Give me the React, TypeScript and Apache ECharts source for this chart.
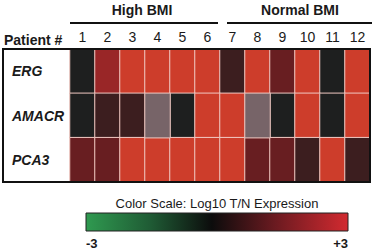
import React, { useEffect, useRef } from "react";
import * as echarts from "echarts";

const patients = ["1", "2", "3", "4", "5", "6", "7", "8", "9", "10", "11", "12"];
const genes = ["ERG", "AMACR", "PCA3"];
// Log10 T/N expression (read from colour intensity); null = not available (grey)
const ergValues = [0, 2.1, 3, 3, 3, 3, 0.5, 3, 1.25, 3, 0, 3];
const amacrValues = [0, 0.5, 0.5, null, 0, 3, 3, null, 0, 3, 0, 3];
const pca3Values = [1.25, 1.25, 3, 3, 3, 3, 3, 1.25, 1.25, 0.5, 3, 0.5];
const groups = ["High BMI", "Normal BMI"];
const scaleTitle = "Color Scale: Log10 T/N Expression";
const scaleMin = -3;
const scaleMax = 3;

const FONT = "Arial, 'Liberation Sans', Helvetica, sans-serif";

export default function App() {
  const ref = useRef<HTMLDivElement>(null);
  useEffect(() => {
    if (!ref.current) return;
    const chart = echarts.init(ref.current, null, { renderer: "svg" });
    const rows = [ergValues, amacrValues, pca3Values];
    const data: any[] = [];
    const naData: any[] = [];
    rows.forEach((vals, r) => {
      vals.forEach((v, c) => {
        if (v === null) naData.push([c, r, 0]);
        else data.push([c, r, v]);
      });
    });
    const cellBorder = { borderColor: "#f1c9c2", borderWidth: 1 };
    chart.setOption({
      animation: false,
      grid: { left: 70, top: 49, right: 5, bottom: 67 },
      xAxis: {
        type: "category",
        position: "top",
        data: patients,
        axisLine: { show: false },
        axisTick: { show: false },
        axisLabel: { fontFamily: FONT, fontSize: 14, color: "#1a1a1a", margin: 5 },
        splitArea: { show: false },
      },
      yAxis: {
        type: "category",
        data: genes,
        inverse: true,
        axisLine: { show: false },
        axisTick: { show: false },
        axisLabel: {
          fontFamily: FONT,
          fontSize: 14,
          fontWeight: "bold",
          fontStyle: "italic",
          color: "#1a1a1a",
          align: "left",
          margin: 58,
        },
      },
      visualMap: [
        {
          show: false,
          type: "continuous",
          min: scaleMin,
          max: scaleMax,
          seriesIndex: 0,
          inRange: {
            color: ["#2f9b52", "#25703d", "#1f4229", "#1e1f1f", "#5a1c1f", "#932326", "#cd3d2b"],
          },
        },
        {
          show: false,
          type: "continuous",
          min: -1,
          max: 1,
          seriesIndex: 1,
          inRange: { color: ["#776468", "#776468"] },
        },
      ],
      series: [
        {
          type: "heatmap",
          data,
          itemStyle: cellBorder,
          emphasis: { disabled: true },
        },
        {
          type: "heatmap",
          data: naData,
          itemStyle: cellBorder,
          emphasis: { disabled: true },
        },
      ],
      graphic: [
        {
          type: "rect",
          shape: { x: 3, y: 49, width: 367, height: 133 },
          style: { fill: "none", stroke: "#111", lineWidth: 2 },
          z: 100,
        },
        {
          type: "text",
          x: 142,
          y: 10,
          style: { text: groups[0], font: `bold 14px ${FONT}`, fill: "#1a1a1a", textAlign: "center", textVerticalAlign: "middle" },
        },
        {
          type: "line",
          shape: { x1: 70, y1: 23, x2: 218, y2: 23 },
          style: { stroke: "#111", lineWidth: 2 },
        },
        {
          type: "text",
          x: 300,
          y: 10,
          style: { text: groups[1], font: `bold 14px ${FONT}`, fill: "#1a1a1a", textAlign: "center", textVerticalAlign: "middle" },
        },
        {
          type: "line",
          shape: { x1: 227, y1: 23, x2: 372, y2: 23 },
          style: { stroke: "#111", lineWidth: 2 },
        },
        {
          type: "text",
          x: 4,
          y: 40,
          style: { text: "Patient #", font: `bold 14px ${FONT}`, fill: "#1a1a1a", textAlign: "left", textVerticalAlign: "middle" },
        },
        {
          type: "text",
          x: 217,
          y: 203,
          style: { text: scaleTitle, font: `13px ${FONT}`, fill: "#1a1a1a", textAlign: "center", textVerticalAlign: "middle" },
        },
        {
          type: "rect",
          shape: { x: 86, y: 213, width: 262, height: 18 },
          style: {
            fill: new echarts.graphic.LinearGradient(0, 0, 1, 0, [
              { offset: 0, color: "#2f9a50" },
              { offset: 0.25, color: "#1f5a34" },
              { offset: 0.48, color: "#0c0c0c" },
              { offset: 0.72, color: "#6a1a20" },
              { offset: 1, color: "#d22a30" },
            ]),
            stroke: "#222",
            lineWidth: 1,
          },
        },
        {
          type: "text",
          x: 86,
          y: 243,
          style: { text: String(scaleMin), font: `bold 13px ${FONT}`, fill: "#1a1a1a", textAlign: "left", textVerticalAlign: "middle" },
        },
        {
          type: "text",
          x: 348,
          y: 243,
          style: { text: "+" + scaleMax, font: `bold 13px ${FONT}`, fill: "#1a1a1a", textAlign: "right", textVerticalAlign: "middle" },
        },
      ],
    });
    return () => chart.dispose();
  }, []);
  return <div ref={ref} style={{ position: "fixed", left: 0, top: 0, width: 375, height: 249, background: "#fff" }} />;
}
